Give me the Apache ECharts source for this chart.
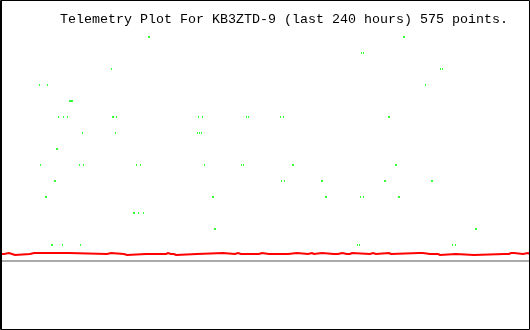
<!DOCTYPE html>
<html>
<head>
<meta charset="utf-8">
<script src="https://cdn.jsdelivr.net/npm/echarts@6/dist/echarts.min.js"></script>
<style>
html,body{margin:0;padding:0;background:#fff;}
#chart{width:530px;height:330px;}
</style>
</head>
<body>
<div id="chart"></div>
<script>
const titleText = 'Telemetry Plot For KB3ZTD-9 (last 240 hours) 575 points.';

// green telemetry samples: hours (0..240) and level
const greenHours = [
  67.25, 67.70, 182.72, 183.17,
  163.70, 164.60,
  50.49, 199.47, 200.38,
  17.89, 21.51, 192.68,
  31.47, 31.92, 32.38, 32.83,
  26.49, 28.75, 30.57, 50.94, 51.40, 52.75, 89.89, 91.70, 111.62, 112.53, 127.02, 128.38, 175.92, 176.38,
  37.36, 52.30, 89.43, 90.34, 91.25,
  25.58, 26.04,
  18.34, 36.00, 37.81, 61.81, 63.62, 92.60, 109.36, 110.26, 132.45, 132.91, 179.09, 179.55,
  24.68, 25.13, 127.47, 128.83, 145.58, 146.04, 174.11, 174.57, 195.40, 195.85,
  20.60, 21.06, 96.23, 96.68, 147.40, 147.85, 163.25, 164.60, 180.45, 180.91,
  60.45, 60.91, 62.72, 64.98,
  97.13, 97.58, 215.32, 215.77,
  23.32, 23.77, 28.30, 36.45, 161.89, 162.79, 204.91, 206.27
];
const greenLevels = [
  14, 14, 14, 14,
  13, 13,
  12, 12, 12,
  11, 11, 11,
  10, 10, 10, 10,
  9, 9, 9, 9, 9, 9, 9, 9, 9, 9, 9, 9, 9, 9,
  8, 8, 8, 8, 8,
  7, 7,
  6, 6, 6, 6, 6, 6, 6, 6, 6, 6, 6, 6,
  5, 5, 5, 5, 5, 5, 5, 5, 5, 5,
  4, 4, 4, 4, 4, 4, 4, 4, 4, 4,
  3, 3, 3, 3,
  2, 2, 2, 2,
  1, 1, 1, 1, 1, 1, 1, 1
];

// red telemetry trace: change points (hours) and the value held from each one
const redHours = [
  0, 1.81, 4.08, 4.53, 4.98, 5.43, 6.79, 13.58, 15.40, 16.30, 21.74, 22.64, 23.55, 24.45, 31.25,
  48.45, 50.26, 56.15, 57.51, 66.11, 66.57, 69.74, 70.64, 75.17, 76.08, 76.53, 76.98, 77.43, 77.89,
  78.79, 79.70, 89.21, 100.98, 106.42, 107.77, 109.13, 109.58, 110.04, 110.49, 117.28, 118.64,
  121.81, 122.26, 123.62, 124.08, 130.42, 134.49, 139.47, 141.28, 142.19, 145.81, 151.25, 152.15,
  153.06, 154.87, 157.13, 157.58, 158.49, 159.40, 167.55, 168.00, 168.45, 168.91, 170.26, 176.15,
  177.06, 177.51, 177.96, 189.74, 190.64, 191.55, 194.72, 195.62, 198.34, 199.25, 206.49, 214.64,
  228.23, 229.13, 230.49, 231.40, 231.85, 232.75, 236.83, 239.09, 240
];
const redValues = [
  0.4375, 0.5, 0.4375, 0.5, 0.4375, 0.375, 0.4375, 0.5, 0.4375, 0.5, 0.4375, 0.5, 0.4375, 0.5, 0.4375,
  0.5, 0.4375, 0.375, 0.4375, 0.5, 0.4375, 0.5, 0.4375, 0.5, 0.4375, 0.5, 0.4375, 0.5, 0.4375,
  0.375, 0.4375, 0.5, 0.4375, 0.5, 0.4375, 0.5, 0.4375, 0.5, 0.4375, 0.5, 0.4375,
  0.5, 0.4375, 0.5, 0.4375, 0.5, 0.4375, 0.5, 0.4375, 0.5, 0.4375, 0.5, 0.4375,
  0.5, 0.4375, 0.5, 0.4375, 0.5, 0.4375, 0.5, 0.4375, 0.5, 0.4375, 0.5, 0.4375,
  0.375, 0.4375, 0.5, 0.4375, 0.5, 0.4375, 0.5, 0.4375, 0.375, 0.4375, 0.375, 0.4375,
  0.5, 0.4375, 0.5, 0.4375, 0.5, 0.4375, 0.5, 0.4375, 0.4375
];

const greenData = greenHours.map((h, i) => [h, greenLevels[i]]);
// each reading is held until the next change point (step trace)
const redData = [];
for (let i = 0; i < redHours.length; i++) {
  redData.push([redHours[i], redValues[i]]);
  if (i + 1 < redHours.length) redData.push([redHours[i + 1], redValues[i]]);
}

const chart = echarts.init(document.getElementById('chart'), null, {renderer: 'canvas'});
chart.setOption({
  animation: false,
  backgroundColor: '#ffffff',
  grid: {left: 0, right: 0, top: 21, bottom: 69, containLabel: false},
  xAxis: {
    type: 'value', min: 0, max: 240,
    axisLine: {show: true, lineStyle: {color: '#aaaaaa', width: 2}},
    axisTick: {show: false}, axisLabel: {show: false}, splitLine: {show: false}
  },
  yAxis: {
    type: 'value', min: 0, max: 15, show: false,
    splitLine: {show: false}
  },
  graphic: [
    {
      type: 'rect', silent: true, z: 100,
      shape: {x: 0.5, y: 0.5, width: 529, height: 329},
      style: {fill: 'none', stroke: '#000000', lineWidth: 1}
    },
    {
      type: 'line', silent: true, z: 100,
      shape: {x1: 1.5, y1: 0, x2: 1.5, y2: 330},
      style: {stroke: '#000000', lineWidth: 1}
    },
    {
      type: 'text', z: 100,
      style: {
        x: 60, y: 19, text: titleText,
        font: '13.33px "Liberation Mono", "DejaVu Sans Mono", monospace',
        fill: '#000000', verticalAlign: 'middle', align: 'left'
      }
    }
  ],
  series: [
    {
      type: 'scatter', data: greenData,
      symbol: 'rect', symbolSize: [1, 2],
      itemStyle: {color: '#00ff00'},
      emphasis: {disabled: true}
    },
    {
      type: 'line', data: redData,
      showSymbol: false, symbol: 'none',
      lineStyle: {color: '#ff0000', width: 2, join: 'miter', cap: 'butt'},
      emphasis: {disabled: true}
    }
  ]
});
</script>
</body>
</html>
